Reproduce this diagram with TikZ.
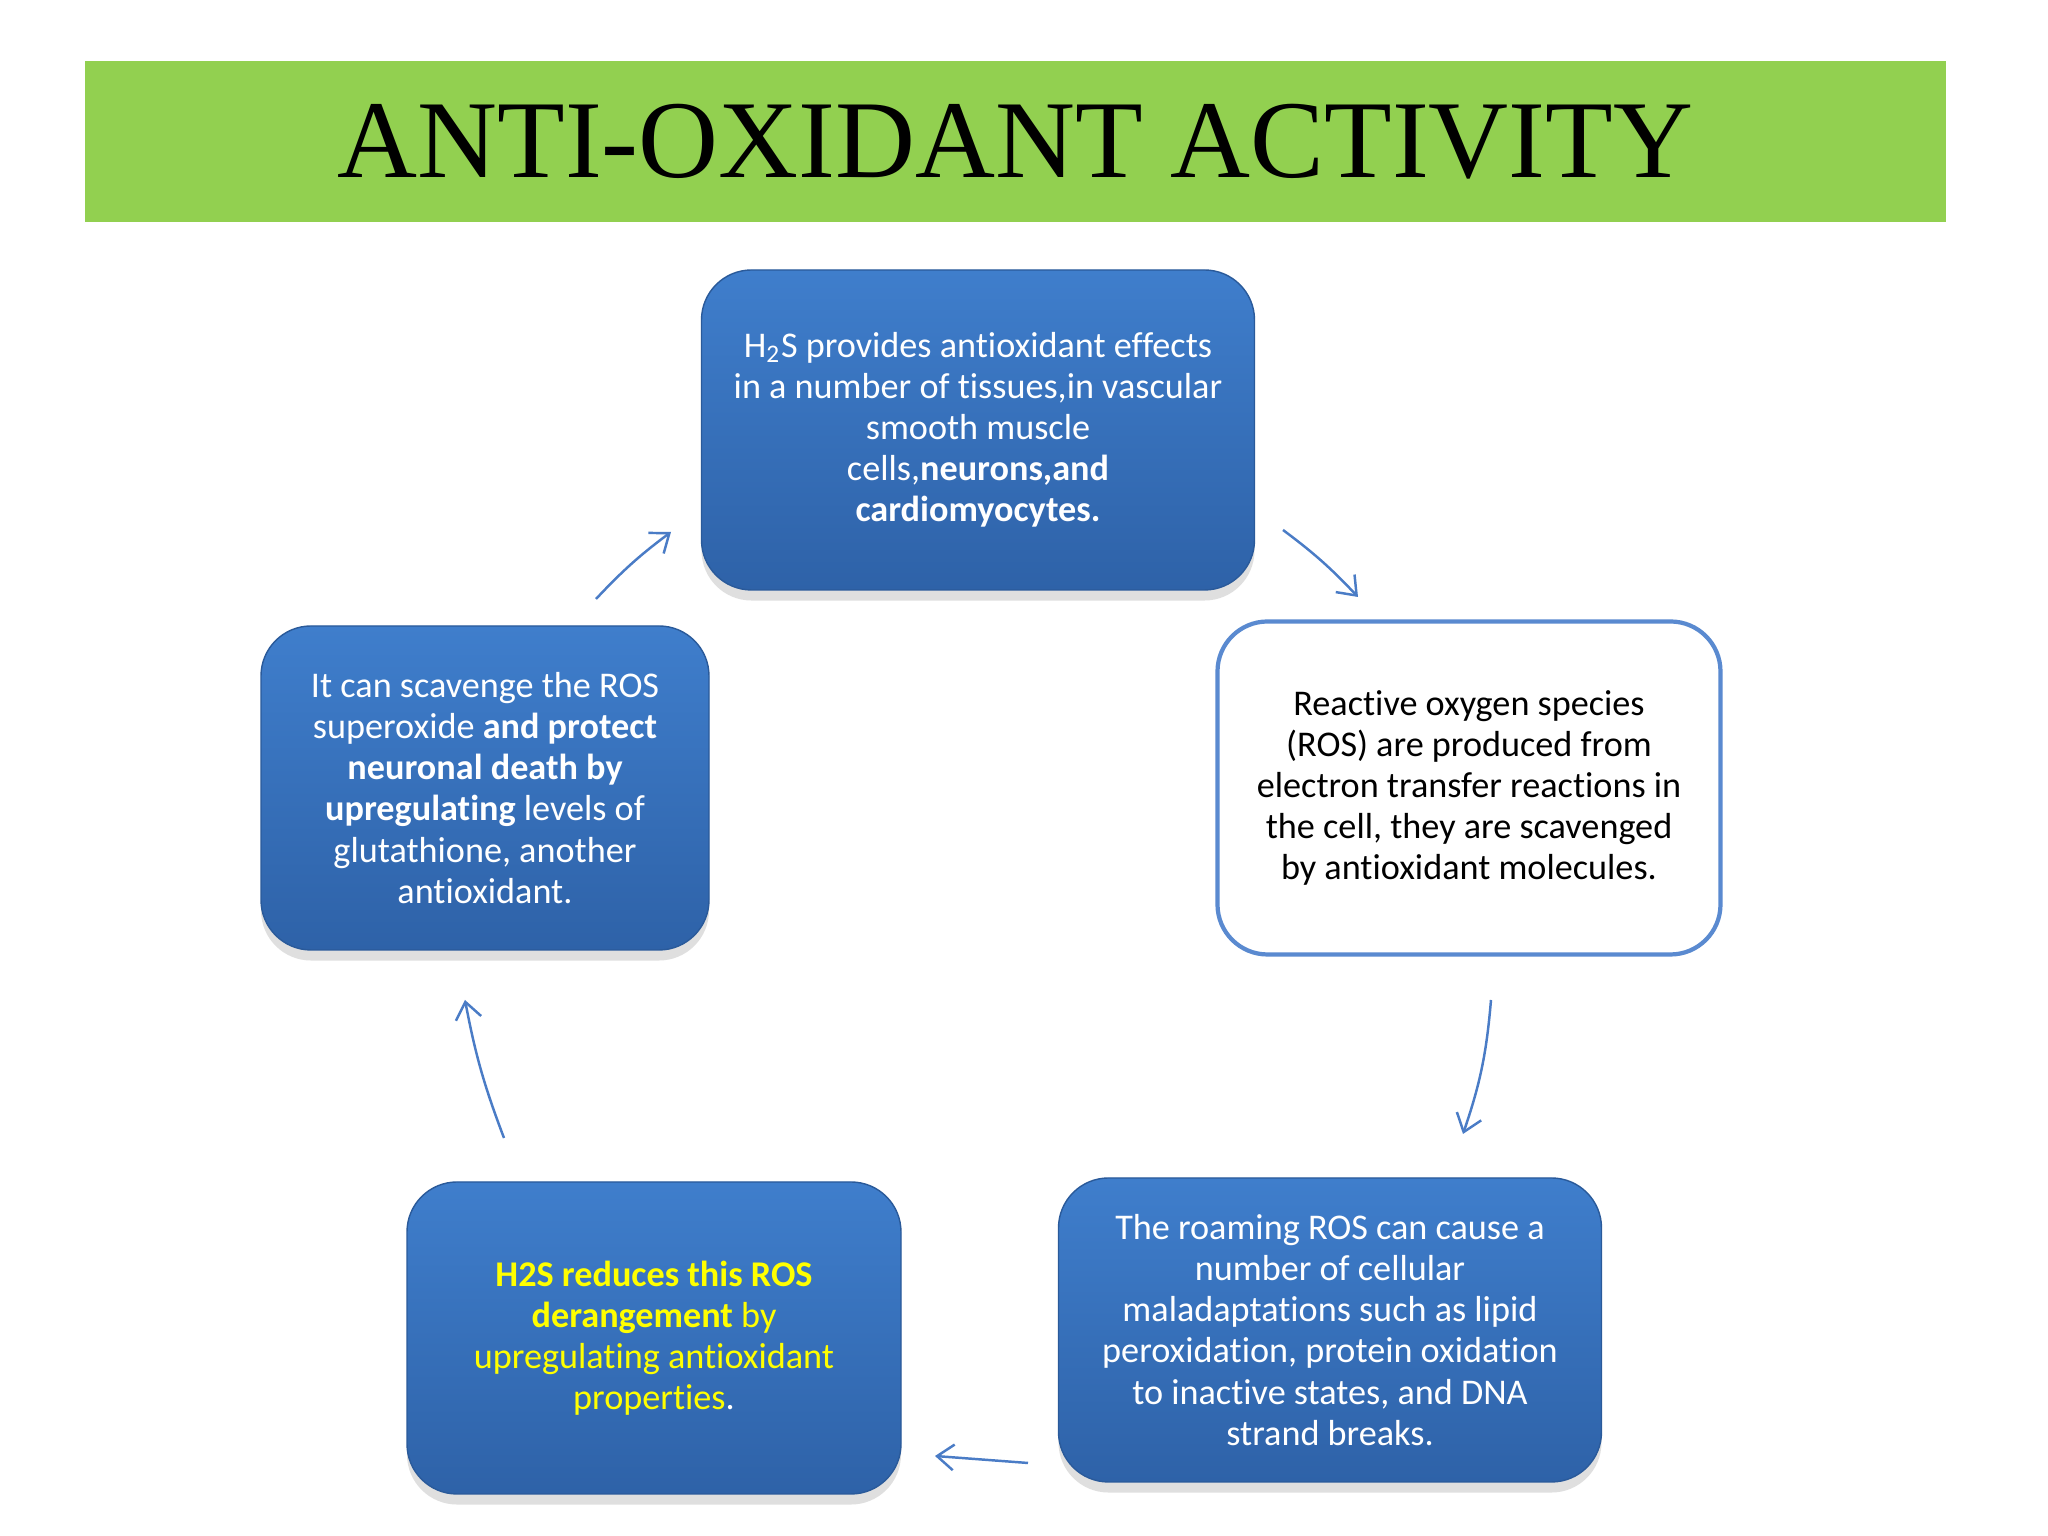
\documentclass[tikz,border=0pt]{standalone}
\usepackage{fontspec}
\setmainfont{Carlito}[Ligatures=NoCommon,RawFeature={-liga;-calt;-dlig;-rlig}]
\newfontfamily\titlefont{Liberation Serif}
\usetikzlibrary{arrows.meta}
\usetikzlibrary{shadows}
\definecolor{titlegreen}{HTML}{92D050}
\definecolor{boxtop}{HTML}{3F7ECC}
\definecolor{boxbot}{HTML}{2E62A8}
\definecolor{boxline}{HTML}{2A5A9A}
\definecolor{linkblue}{HTML}{4A7CC6}
\definecolor{plainline}{HTML}{5A8AD0}
\definecolor{hiyellow}{HTML}{FFFF00}
\tikzset{
	align=center,
	cell/.style={
		draw=boxline,
		rectangle,
		rounded corners=0.5cm,
		top color=boxtop,
		bottom color=boxbot,
		text=white,
		drop shadow={opacity=0.25,shadow xshift=0pt,shadow yshift=-3pt},
		font=\fontsize{10.3}{11.7}\selectfont,
	},
	plain/.style={
		draw=plainline,
		line width=1.2pt,
		rectangle,
		rounded corners=0.5cm,
		fill=white,
		text=black,
		font=\fontsize{10.3}{11.7}\selectfont,
	},
	banner/.style={
		fill=titlegreen,
		rectangle,
		font=\titlefont\fontsize{31.5}{36}\selectfont,
	},
	link/.style={
		draw=linkblue,
		line width=0.7pt,
		-{Straight Barb[angle=75:6pt 0]},
	},
}

\begin{document}
\begin{tikzpicture}
	\fill[white] (0,0) rectangle (20.48,15.36);
	\useasboundingbox (0,0) rectangle (20.48,15.36);

	\node[banner,minimum width=18.61cm,minimum height=1.61cm] (title) at (10.155,13.945) {ANTI-OXIDANT ACTIVITY};

	\node[cell,minimum width=5.53cm,minimum height=3.20cm] (effects) at (9.78,11.06)
		{H\textsubscript{2}S provides antioxidant effects\\in a number of tissues,in vascular\\smooth muscle\\cells,\textbf{neurons,and}\\\textbf{cardiomyocytes.}};
	\node[plain,minimum width=5.03cm,minimum height=3.33cm] (ros) at (14.69,7.48)
		{Reactive oxygen species\\(ROS) are produced from\\electron transfer reactions in\\the cell, they are scavenged\\by antioxidant molecules.};
	\node[cell,minimum width=5.43cm,minimum height=3.04cm] (damage) at (13.30,2.06)
		{The roaming ROS can cause a\\number of cellular\\maladaptations such as lipid\\peroxidation, protein oxidation\\to inactive states, and DNA\\strand breaks.};
	\node[cell,minimum width=4.94cm,minimum height=3.12cm] (reduce) at (6.54,1.98)
		{\color{hiyellow}\textbf{H2S reduces this ROS}\\\color{hiyellow}\textbf{derangement} by\\\color{hiyellow}upregulating antioxidant\\\color{hiyellow}properties\color{white}.};
	\node[cell,minimum width=4.48cm,minimum height=3.24cm] (scav) at (4.85,7.48)
		{It can scavenge the ROS\\superoxide \textbf{and protect}\\\textbf{neuronal death by}\\\textbf{upregulating} levels of\\glutathione, another\\antioxidant.};

	% loose arrow ends between the boxes
	\coordinate (e1) at (12.83,10.06);
	\coordinate (r1) at (13.58,9.39);
	\coordinate (r2) at (14.91,5.36);
	\coordinate (d1) at (14.63,4.02);
	\coordinate (d2) at (10.28,0.73);
	\coordinate (h1) at (9.35,0.80);
	\coordinate (h2) at (5.04,3.98);
	\coordinate (s1) at (4.65,5.36);
	\coordinate (s2) at (5.96,9.37);
	\coordinate (e2) at (6.71,10.04);

	\draw[link] (e1) to[bend left=5] (r1);
	\draw[link] (r2) to[bend left=7] (d1);
	\draw[link] (d2) -- (h1);
	\draw[link] (h2) to[bend left=5] (s1);
	\draw[link] (s2) to[bend left=5] (e2);
\end{tikzpicture}
\end{document}
